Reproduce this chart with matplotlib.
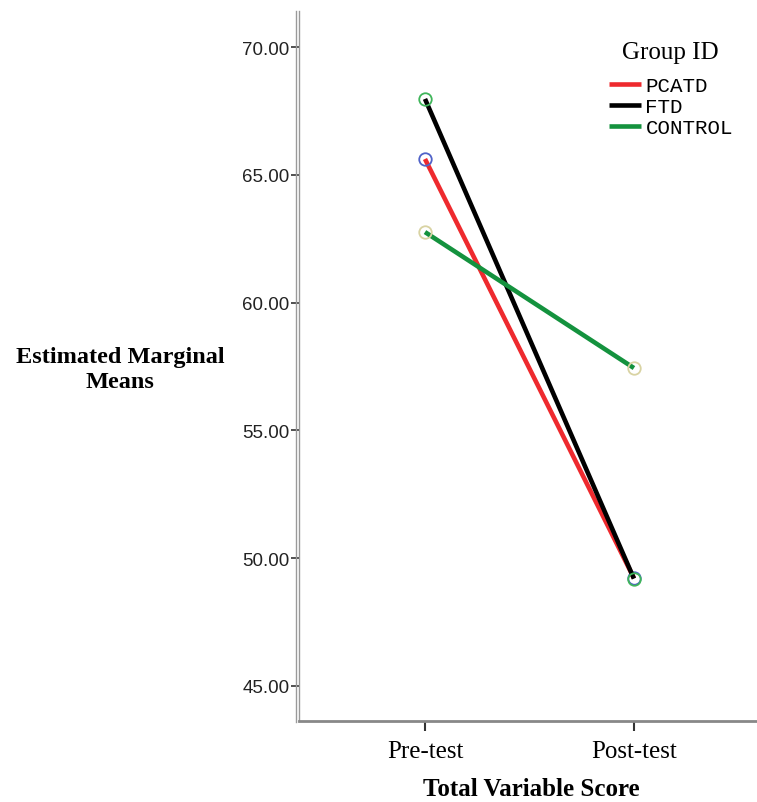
import numpy as np
import matplotlib.pyplot as plt
from matplotlib.lines import Line2D

# estimated marginal means by group
tests = ['Pre-test', 'Post-test']
groups = ['PCATD', 'FTD', 'CONTROL']
pcatd = [65.62, 49.22]
ftd = [67.97, 49.20]
control = [62.76, 57.44]

line_colors = ['#ee2a2e', '#000000', '#14923e']
marker_colors = ['#5062c8', '#3fb55a', '#d9d3a3']

W, H = 757, 803
fig = plt.figure(figsize=(W / 100, H / 100), dpi=100)
left, bottom, top = 299, 722, 12
ax = fig.add_axes([left / W, (H - bottom) / H, 1 - left / W, (bottom - top) / H])

x = np.arange(len(tests))
for vals, lc, mc, name in zip([pcatd, ftd, control], line_colors, marker_colors, groups):
    ax.plot(x, vals, color=lc, linewidth=3.3, label=name, solid_capstyle='butt')
    ax.plot(x, vals, linestyle='none', marker='o', markersize=9,
            markerfacecolor='none', markeredgecolor=mc, markeredgewidth=1.3)

ax.set_xlim(-0.603, 1.589)
ax.set_ylim(43.63, 71.41)
ax.set_yticks([45, 50, 55, 60, 65, 70])
ax.set_yticklabels(['%.2f' % v for v in [45, 50, 55, 60, 65, 70]],
                   family='Liberation Sans', fontsize=13.5, color='#222222')
ax.set_xticks(x)
ax.set_xticklabels(tests, family='Liberation Serif', fontsize=18)
ax.tick_params(axis='y', length=6, width=1.2, color='#333333', pad=1)
ax.tick_params(axis='x', length=7, width=1.5, color='#333333', pad=7)

for side in ['top', 'right']:
    ax.spines[side].set_visible(False)
ax.spines['left'].set_color('#9a9a9a')
ax.spines['left'].set_linewidth(1.0)
ax.spines['bottom'].set_color('#888888')
ax.spines['bottom'].set_linewidth(2.0)

# outer line of the double vertical axis rule
fig.add_artist(Line2D([295.5 / W, 295.5 / W], [(H - 723) / H, (H - 12) / H],
                      color='#9a9a9a', linewidth=1.0))

fig.text(120 / W, 1 - 370 / H, 'Estimated Marginal\nMeans', ha='center', va='center',
         family='Liberation Serif', fontweight='bold', fontsize=17.5, linespacing=1.25)
fig.text(531 / W, 1 - 790 / H, 'Total Variable Score', ha='center', va='center',
         family='Liberation Serif', fontweight='bold', fontsize=18)

# legend entries, with the title placed on its own above them
fig.text(670 / W, 1 - 53 / H, 'Group ID', ha='center', va='center',
         family='Liberation Serif', fontsize=18)
leg = ax.legend(loc='upper left', bbox_to_anchor=(609 / W, 1 - 77 / H),
                bbox_transform=fig.transFigure, frameon=False,
                prop={'family': 'Liberation Mono', 'size': 15},
                handlelength=1.55, handletextpad=0.2, labelspacing=0.1, borderpad=0,
                borderaxespad=0)
for h in leg.get_lines():
    h.set_linewidth(3.3)

fig.savefig('out.png', dpi=100)
